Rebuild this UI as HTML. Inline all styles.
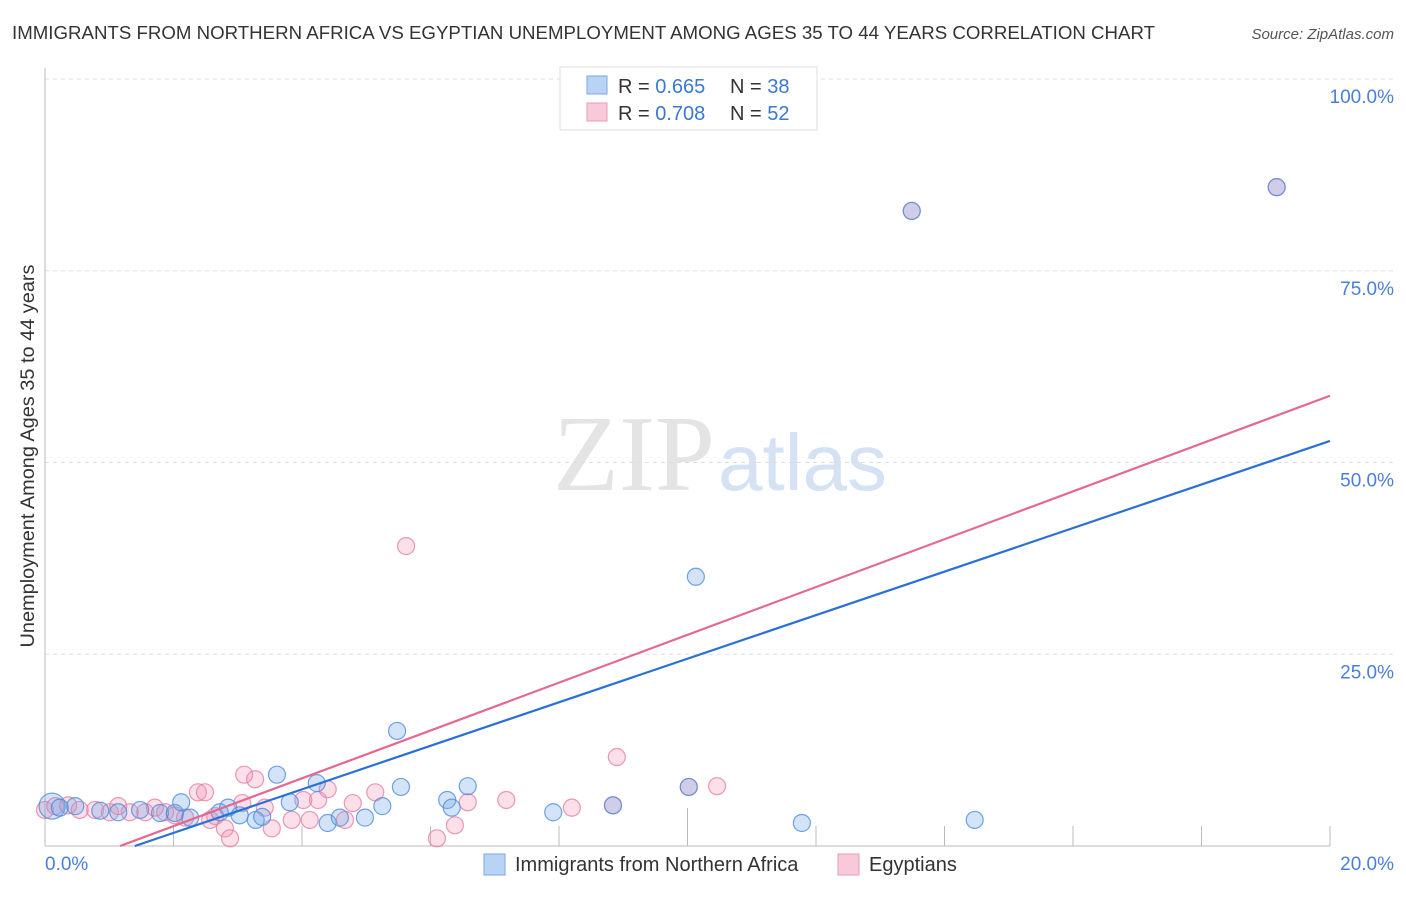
<!DOCTYPE html>
<html><head><meta charset="utf-8"><style>
body{margin:0;background:#fff;font-family:"Liberation Sans",sans-serif;}
</style></head><body>
<svg width="1406" height="892" xmlns="http://www.w3.org/2000/svg">
<text x="12" y="39" font-size="18" fill="#333" textLength="1143" lengthAdjust="spacingAndGlyphs">IMMIGRANTS FROM NORTHERN AFRICA VS EGYPTIAN UNEMPLOYMENT AMONG AGES 35 TO 44 YEARS CORRELATION CHART</text>
<text x="1394" y="39" font-size="15" fill="#555" font-style="italic" text-anchor="end">Source: ZipAtlas.com</text>
<text x="715" y="490" font-size="108" fill="#e4e4e4" text-anchor="end" font-family="Liberation Serif,serif">ZIP</text>
<text x="718" y="490" font-size="80" fill="#d4e2f4">atlas</text>
<g id="grid"></g>
<g id="marks"></g>
<text transform="translate(34,456) rotate(-90)" font-size="19" fill="#333" text-anchor="middle" textLength="383" lengthAdjust="spacingAndGlyphs">Unemployment Among Ages 35 to 44 years</text>
<text x="45" y="870" font-size="19" fill="#4a7fd6">0.0%</text>
<text x="1394" y="870" font-size="19" fill="#4a7fd6" text-anchor="end">20.0%</text>
<g>
<rect x="560" y="67" width="257" height="63" fill="#fff" stroke="#ddd"/>
<rect x="587" y="76" width="20" height="18" fill="#b9d3f5" stroke="#7aa7e6"/>
<rect x="587" y="103" width="20" height="18" fill="#f8c9d8" stroke="#ec9ab5"/>
<text x="618" y="93" font-size="20" fill="#333">R = <tspan fill="#3a78d4">0.665</tspan></text>
<text x="730" y="93" font-size="20" fill="#333">N = <tspan fill="#3a78d4">38</tspan></text>
<text x="618" y="120" font-size="20" fill="#333">R = <tspan fill="#3a78d4">0.708</tspan></text>
<text x="730" y="120" font-size="20" fill="#333">N = <tspan fill="#3a78d4">52</tspan></text>
</g>
<g>
<rect x="484" y="854" width="21" height="21" fill="#b9d3f5" stroke="#7aa7e6"/>
<text x="515" y="871" font-size="20" fill="#333">Immigrants from Northern Africa</text>
<rect x="838" y="854" width="21" height="21" fill="#f8c9d8" stroke="#ec9ab5"/>
<text x="869" y="871" font-size="20" fill="#333">Egyptians</text>
</g>
</svg>
<script>
const yTicks=[25,50,75,100];
const blueX=[0.11,0.23,0.47,0.86,1.14,1.48,1.79,2.02,2.12,2.26,2.72,2.85,3.03,3.28,3.38,3.61,3.81,4.23,4.40,4.59,4.98,5.25,5.48,5.54,6.26,6.33,6.58,7.91,10.13,11.78,14.47,8.84,10.02,13.49,19.17];
const blueY=[5.2,5.0,5.2,4.6,4.4,4.7,4.3,4.3,5.7,3.7,4.4,5.0,4.0,3.4,3.8,9.3,5.7,8.2,3.0,3.7,3.7,5.2,15.0,7.7,6.0,5.0,7.8,4.4,35.1,3.0,3.4,5.3,7.7,82.8,85.9];
const pinkX=[0.0,0.16,0.36,0.54,0.78,1.01,1.14,1.32,1.56,1.71,1.87,2.02,2.18,2.38,2.49,2.57,2.65,2.80,2.88,3.07,3.10,3.27,3.42,3.53,3.84,4.02,4.12,4.25,4.40,4.67,4.79,5.14,5.62,6.10,6.38,6.58,7.18,8.20,8.90,10.46,8.84,10.02,13.49,19.17];
const pinkY=[4.7,5.2,5.3,4.7,4.7,4.4,5.2,4.4,4.4,5.0,4.4,4.0,3.7,7.0,7.0,3.4,3.9,2.3,1.0,5.6,9.3,8.7,5.0,2.3,3.4,6.0,3.4,6.0,7.4,3.4,5.6,7.0,39.1,1.0,2.7,5.7,6.0,5.0,11.6,7.8,5.3,7.7,82.8,85.9];
const blueFit=[2.839,-3.97];
const pinkFit=[3.117,-3.64];
const NS='http://www.w3.org/2000/svg';
const X0=45,X1=1330,Y0=846,Y100=79;
const sx=v=>X0+(X1-X0)*v/20;
const sy=v=>Y0-(Y0-Y100)*v/100;
function mk(t,a,p){const e=document.createElementNS(NS,t);for(const k in a)e.setAttribute(k,a[k]);p.appendChild(e);return e;}
const g=document.getElementById('grid'),m=document.getElementById('marks');
yTicks.forEach(t=>{
 const l=mk('line',{x1:X0,x2:1394,y1:sy(t),y2:sy(t),stroke:'#ddd','stroke-dasharray':'4,4'},g);
 
 
 const tx=mk('text',{x:1394,y:sy(t)+24,'font-size':19,fill:'#4a7fd6','text-anchor':'end'},g);
 tx.textContent=t.toFixed(1)+'%';
 
 
});
mk('line',{x1:X0,x2:X0,y1:68,y2:Y0,stroke:'#bbb'},g);
mk('line',{x1:X0,x2:X1,y1:Y0,y2:Y0,stroke:'#bbb'},g);
for(let i=1;i<=10;i++){const x=sx(i*2);mk('line',{x1:x,x2:x,y1:i==5?808:826,y2:Y0,stroke:'#bbb'},g);}
function pts(xs,ys,fill,stroke,name){
 xs.forEach((x,i)=>{
  const c=mk('circle',{cx:sx(x),cy:sy(ys[i]),r:(i==0&&name=='blue-point')?13:8.5,fill:fill,stroke:stroke,'stroke-width':1.2},m);
  
  
 });
}
pts(pinkX,pinkY,'rgba(242,150,182,0.3)','rgba(230,120,160,0.75)','pink-point');
pts(blueX,blueY,'rgba(110,165,232,0.3)','rgba(80,140,220,0.8)','blue-point');
function fit(f,col,name){
 const x0=-f[1]/f[0];
 const l=mk('line',{x1:sx(x0),y1:sy(0),x2:sx(20),y2:sy(f[0]*20+f[1]),stroke:col,'stroke-width':2.2},m);
 
 
}
fit(pinkFit,'#e46890','pink-trend-line');
fit(blueFit,'#2a70d6','blue-trend-line');
</script>
</body></html>
